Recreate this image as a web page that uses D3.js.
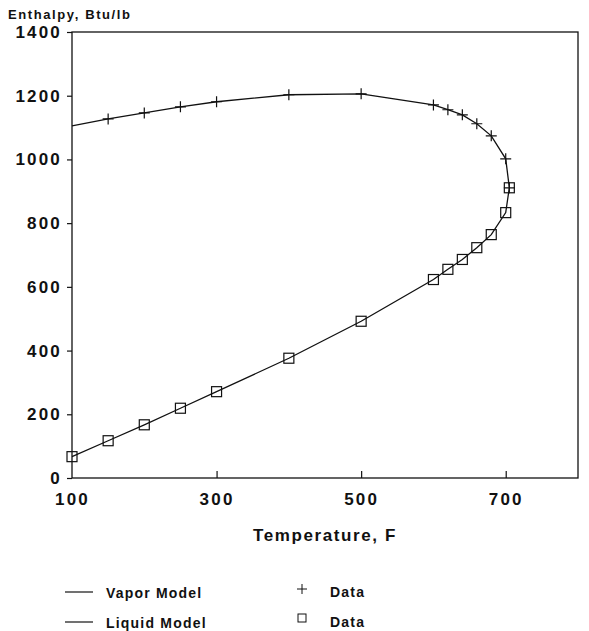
<!DOCTYPE html>
<html>
<head>
<meta charset="utf-8">
<script src="https://cdn.jsdelivr.net/npm/d3@7"></script>
<style>
  body { margin: 0; background: #fff; }
  text { font-family: "Liberation Sans", Arial, sans-serif; fill: #111; }
</style>
</head>
<body>
<div id="chartDiv"></div>
<script>
// temperatures (F) and enthalpy (Btu/lb)
var vaporModelT = [100, 150, 200, 250, 300, 400, 500, 600, 620, 640, 660, 680, 700, 705];
var vaporModelH = [1105, 1127, 1146, 1165, 1181, 1203, 1206, 1171, 1156, 1140, 1112, 1074, 1002, 911];
var liquidModelT = [100, 150, 200, 250, 300, 400, 500, 600, 620, 640, 660, 680, 700, 705];
var liquidModelH = [67, 117, 167, 219, 271, 376, 492, 623, 655, 686, 723, 764, 833, 911];

var vaporDataT = [150, 200, 250, 300, 400, 500, 600, 620, 640, 660, 680, 700, 705];
var vaporDataH = [1127, 1146, 1165, 1181, 1203, 1206, 1171, 1156, 1140, 1112, 1074, 1002, 911];
var liquidDataT = [100, 150, 200, 250, 300, 400, 500, 600, 620, 640, 660, 680, 700, 705];
var liquidDataH = [67, 117, 167, 219, 271, 376, 492, 623, 655, 686, 723, 764, 833, 911];

var xTicks = [100, 300, 500, 700];
var yTicks = [0, 200, 400, 600, 800, 1000, 1200, 1400];

var outerWidth = 589, outerHeight = 631;
var margin = {top: 32, right: 11, bottom: 153, left: 72};
var width = outerWidth - margin.left - margin.right,
    height = outerHeight - margin.top - margin.bottom;

var svg = d3.select("#chartDiv")
    .append("svg")
    .attr("width", outerWidth)
    .attr("height", outerHeight);

var g = svg.append("g")
    .attr("transform", "translate(" + margin.left + "," + margin.top + ")");

var x = d3.scaleLinear().domain([100, 800]).range([0, width]);
var y = d3.scaleLinear().domain([0, 1400]).range([height, 0]);

// frame
g.append("rect")
    .attr("width", width)
    .attr("height", height)
    .style("fill", "none")
    .style("stroke", "#111")
    .style("stroke-width", 1.3);

// y axis, ticks outside
var yAxis = d3.axisLeft(y).tickValues(yTicks).tickSize(5).tickPadding(5).tickFormat(d3.format("d"));
var yAxisGroup = g.append("g").attr("class", "y-axis").call(yAxis);

// x axis, ticks inside
var xAxis = d3.axisBottom(x).tickValues(xTicks).tickSize(-7).tickPadding(15).tickFormat(d3.format("d"));
var xAxisGroup = g.append("g")
    .attr("class", "x-axis")
    .attr("transform", "translate(0," + height + ")")
    .call(xAxis);

g.selectAll(".domain").remove();
g.selectAll(".tick line").style("stroke", "#111").style("stroke-width", 1.2);
g.selectAll(".tick text")
    .style("font-size", "17px")
    .style("font-weight", "bold")
    .style("letter-spacing", "2.2px")
    .style("fill", "#111");
xAxisGroup.selectAll(".tick").filter(function(d) { return d === 100; }).select("line").remove();

// axis titles
svg.append("text")
    .attr("x", 8)
    .attr("y", 19)
    .style("font-size", "13px")
    .style("font-weight", "bold")
    .style("letter-spacing", "1.6px")
    .text("Enthalpy, Btu/lb");

svg.append("text")
    .attr("x", margin.left + width / 2)
    .attr("y", 541)
    .attr("text-anchor", "middle")
    .style("font-size", "17px")
    .style("font-weight", "bold")
    .style("letter-spacing", "1.6px")
    .text("Temperature, F");

// model lines
var line = d3.line()
    .x(function(d) { return x(d[0]); })
    .y(function(d) { return y(d[1]); });

g.append("path")
    .attr("d", line(d3.zip(vaporModelT, vaporModelH)))
    .style("fill", "none")
    .style("stroke", "#111")
    .style("stroke-width", 1.3);

g.append("path")
    .attr("d", line(d3.zip(liquidModelT, liquidModelH)))
    .style("fill", "none")
    .style("stroke", "#111")
    .style("stroke-width", 1.3);

// data markers
function plusPath(s) {
    return "M" + (-s) + ",0H" + s + "M0," + (-s) + "V" + s;
}

g.selectAll(".plus")
    .data(d3.zip(vaporDataT, vaporDataH))
    .enter().append("path")
    .attr("class", "plus")
    .attr("transform", function(d) { return "translate(" + x(d[0]) + "," + y(d[1]) + ")"; })
    .attr("d", plusPath(5.5))
    .style("stroke", "#111")
    .style("stroke-width", 1.2);

g.selectAll(".sq")
    .data(d3.zip(liquidDataT, liquidDataH))
    .enter().append("rect")
    .attr("class", "sq")
    .attr("x", function(d) { return x(d[0]) - 5; })
    .attr("y", function(d) { return y(d[1]) - 5; })
    .attr("width", 10)
    .attr("height", 10)
    .style("fill", "none")
    .style("stroke", "#111")
    .style("stroke-width", 1.2);

// legend
var legend = svg.append("g").attr("class", "legend");
var legendRows = [
    {label: "Vapor Model", mark: "Data", sym: "plus", y: 592},
    {label: "Liquid Model", mark: "Data", sym: "square", y: 622}
];
legendRows.forEach(function(r) {
    legend.append("line")
        .attr("x1", 65).attr("x2", 93)
        .attr("y1", r.y).attr("y2", r.y)
        .style("stroke", "#111")
        .style("stroke-width", 1.2);
    legend.append("text")
        .attr("x", 106).attr("y", r.y + 6)
        .style("font-size", "14px")
        .style("font-weight", "bold")
        .style("letter-spacing", "1.2px")
        .text(r.label);
    if (r.sym === "plus") {
        legend.append("path")
            .attr("transform", "translate(302," + (r.y - 3) + ")")
            .attr("d", plusPath(5))
            .style("stroke", "#111")
            .style("stroke-width", 1);
    } else {
        legend.append("rect")
            .attr("x", 298).attr("y", r.y - 8)
            .attr("width", 8).attr("height", 8)
            .style("fill", "none")
            .style("stroke", "#111")
            .style("stroke-width", 1);
    }
    legend.append("text")
        .attr("x", 330).attr("y", r.y + 5)
        .style("font-size", "14px")
        .style("font-weight", "bold")
        .style("letter-spacing", "1.2px")
        .text(r.mark);
});
</script>
</body>
</html>
